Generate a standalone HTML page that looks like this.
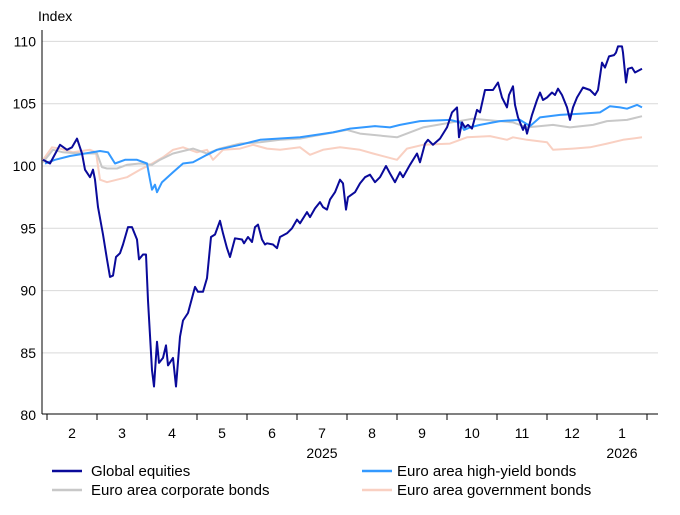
<!DOCTYPE html>
<html><head><meta charset="utf-8"><style>
body{margin:0;background:#fff;width:680px;height:510px;overflow:hidden}
svg text{font-family:"Liberation Sans",Arial,sans-serif;font-size:14px;fill:#000}
svg text.lg{font-size:15px}
</style></head><body>
<svg id="chart" width="680" height="510">
<text x="38" y="21">Index</text>
<g id="grid"></g><g id="axes"></g><g id="series"></g>
<g>
<line x1="52" y1="471" x2="82" y2="471" stroke="#0a0a9a" stroke-width="2.5"/>
<text class="lg" x="91" y="476">Global equities</text>
<line x1="52" y1="490" x2="82" y2="490" stroke="#c8c8c8" stroke-width="2.5"/>
<text class="lg" x="91" y="495">Euro area corporate bonds</text>
<line x1="362" y1="471" x2="392" y2="471" stroke="#3399ff" stroke-width="2.5"/>
<text class="lg" x="397" y="476">Euro area high-yield bonds</text>
<line x1="362" y1="490" x2="392" y2="490" stroke="#f9d0c2" stroke-width="2.5"/>
<text class="lg" x="397" y="495">Euro area government bonds</text>
</g>
</svg>
<script>
const yTicks=[80,85,90,95,100,105,110];
const monthLabels=["2","3","4","5","6","7","8","9","10","11","12","1"];
const yearLabels=[{label:"2025",month:5.5},{label:"2026",month:11.5}];
// x = months since 1 Feb 2025, y = index value
const eqX=[-0.08,0.06,0.26,0.40,0.50,0.60,0.70,0.76,0.86,0.92,0.96,1.02,1.12,1.20,1.26,1.32,1.38,1.46,1.52,1.62,1.70,1.80,1.84,1.92,1.98,2.02,2.10,2.14,2.20,2.24,2.32,2.38,2.42,2.52,2.58,2.66,2.72,2.82,2.96,3.02,3.12,3.20,3.28,3.36,3.46,3.52,3.60,3.66,3.76,3.90,3.94,4.02,4.10,4.16,4.22,4.30,4.36,4.40,4.52,4.60,4.66,4.80,4.90,5.00,5.06,5.20,5.26,5.36,5.46,5.52,5.60,5.66,5.76,5.86,5.92,5.98,6.02,6.16,6.26,6.36,6.46,6.56,6.66,6.78,6.86,6.96,7.06,7.12,7.26,7.40,7.46,7.56,7.62,7.72,7.86,8.00,8.10,8.20,8.24,8.30,8.36,8.42,8.50,8.60,8.66,8.76,8.92,9.02,9.10,9.20,9.24,9.32,9.36,9.42,9.52,9.56,9.60,9.70,9.80,9.86,9.92,10.00,10.10,10.16,10.22,10.30,10.40,10.46,10.52,10.60,10.72,10.86,10.96,11.02,11.10,11.16,11.24,11.34,11.38,11.42,11.50,11.52,11.58,11.62,11.70,11.76,11.90];
const eqY=[100.5,100.2,101.7,101.3,101.5,102.2,101.0,99.7,99.1,99.7,98.9,96.7,94.5,92.5,91.1,91.2,92.7,93.0,93.7,95.1,95.1,94.1,92.5,92.9,92.9,89.2,83.6,82.3,85.9,84.2,84.6,85.6,84.0,84.6,82.3,86.3,87.6,88.2,90.3,89.9,89.9,91.0,94.3,94.5,95.6,94.6,93.4,92.7,94.2,94.1,93.8,94.3,93.9,95.1,95.3,94.1,93.7,93.8,93.7,93.4,94.3,94.6,95.0,95.7,95.4,96.3,95.9,96.6,97.1,96.7,96.5,97.3,97.9,98.9,98.6,96.5,97.5,97.9,98.6,99.1,99.3,98.7,99.1,100.0,99.4,98.7,99.5,99.1,100.1,101.0,100.3,101.8,102.1,101.7,102.2,103.1,104.3,104.7,102.3,103.5,103.1,103.3,103.0,104.5,104.3,106.1,106.1,106.7,105.5,104.7,105.7,106.4,104.9,103.9,102.9,103.3,102.6,104.1,105.3,105.9,105.3,105.5,105.9,105.7,106.2,105.7,104.7,103.7,104.7,105.5,106.3,106.1,105.7,106.1,108.3,107.9,108.8,108.9,109.1,109.6,109.6,109.1,106.7,107.8,107.9,107.5,107.8];
const hyX=[-0.04,0.16,0.46,0.76,1.06,1.22,1.36,1.56,1.80,2.00,2.06,2.10,2.16,2.20,2.30,2.52,2.72,2.92,3.20,3.40,3.86,4.26,5.06,5.72,6.06,6.56,6.86,7.06,7.46,8.06,8.26,8.34,8.46,8.66,9.06,9.46,9.66,9.86,10.26,10.66,11.06,11.26,11.46,11.60,11.80,11.90];
const hyY=[100.2,100.5,100.8,101.0,101.2,101.1,100.2,100.5,100.5,100.2,98.9,98.1,98.5,97.9,98.7,99.5,100.2,100.3,100.9,101.3,101.7,102.1,102.3,102.7,103.0,103.2,103.1,103.3,103.6,103.7,103.5,102.9,103.1,103.3,103.6,103.7,103.2,103.9,104.1,104.2,104.3,104.8,104.7,104.6,104.9,104.7];
const corpX=[-0.08,0.12,0.32,0.66,1.00,1.10,1.20,1.40,1.60,1.86,2.10,2.26,2.52,2.92,3.20,3.46,3.86,4.26,4.66,5.06,5.32,5.60,6.00,6.26,7.00,7.52,8.52,9.32,9.60,10.12,10.46,10.92,11.20,11.60,11.90];
const corpY=[100.3,101.3,101.1,101.0,101.0,99.9,99.8,99.8,100.1,100.2,100.1,100.5,101.0,101.4,101.0,101.4,101.8,101.9,102.1,102.2,102.4,102.6,102.9,102.6,102.3,103.1,103.8,103.5,103.1,103.3,103.1,103.3,103.6,103.7,104.0];
const govX=[-0.08,0.10,0.26,0.52,0.86,0.98,1.06,1.20,1.40,1.60,1.86,2.06,2.32,2.52,2.72,3.00,3.20,3.32,3.52,3.86,4.12,4.40,4.66,5.06,5.26,5.52,5.86,6.26,6.52,7.00,7.20,7.52,8.06,8.40,8.86,9.20,9.32,9.60,10.00,10.12,10.52,10.86,11.20,11.52,11.90];
const govY=[100.5,101.5,101.4,101.1,101.3,101.1,98.9,98.7,98.9,99.1,99.7,100.1,100.7,101.3,101.5,101.1,101.3,100.5,101.3,101.4,101.7,101.4,101.3,101.5,100.9,101.3,101.5,101.3,101.0,100.5,101.4,101.7,101.8,102.3,102.4,102.1,102.3,102.1,101.9,101.3,101.4,101.5,101.8,102.1,102.3];

const NS="http://www.w3.org/2000/svg";
const L=42,R=658,T=30,B=414;
function xs(m){return 47+m*50;}
function ys(v){return 166-(v-100)*12.46;}
function mk(tag,attrs,parent){const e=document.createElementNS(NS,tag);for(const k in attrs)e.setAttribute(k,attrs[k]);parent.appendChild(e);return e;}
const grid=document.getElementById('grid'),axes=document.getElementById('axes'),series=document.getElementById('series');
yTicks.forEach(v=>{
  if(v>80){const g=mk('line',{x1:L,x2:R,y1:ys(v),y2:ys(v),stroke:'#d9d9d9','stroke-width':1},grid);
  
  }
  const t=mk('text',{x:36,y:ys(v)+5,'text-anchor':'end'},axes);t.textContent=v;
  
  
});
const ya=mk('line',{x1:L,x2:L,y1:T,y2:B,stroke:'#000','stroke-width':1},axes);


const xa=mk('line',{x1:L,x2:R,y1:B,y2:B,stroke:'#000','stroke-width':1},axes);


for(let i=0;i<=monthLabels.length;i++){
  const tk=mk('line',{x1:xs(i),x2:xs(i),y1:B,y2:B+6,stroke:'#000','stroke-width':1},axes);
  
  
}
monthLabels.forEach((lab,i)=>{
  const t=mk('text',{x:xs(i+0.5),y:438,'text-anchor':'middle'},axes);t.textContent=lab;
  
  
});
yearLabels.forEach(o=>{
  const t=mk('text',{x:xs(o.month),y:458,'text-anchor':'middle'},axes);t.textContent=o.label;
  
  
});
function line(xa,ya,color,name){
  const d=xa.map((m,i)=>(i?'L':'M')+xs(m).toFixed(1)+','+ys(ya[i]).toFixed(1)).join('');
  const p=mk('path',{d:d,fill:'none',stroke:color,'stroke-width':2,'stroke-linejoin':'round'},series);
  
  
}
line(govX,govY,'#f9d0c2','line-government-bonds');
line(corpX,corpY,'#c8c8c8','line-corporate-bonds');
line(hyX,hyY,'#3399ff','line-high-yield-bonds');
line(eqX,eqY,'#0a0a9a','line-global-equities');
</script>
</body></html>
